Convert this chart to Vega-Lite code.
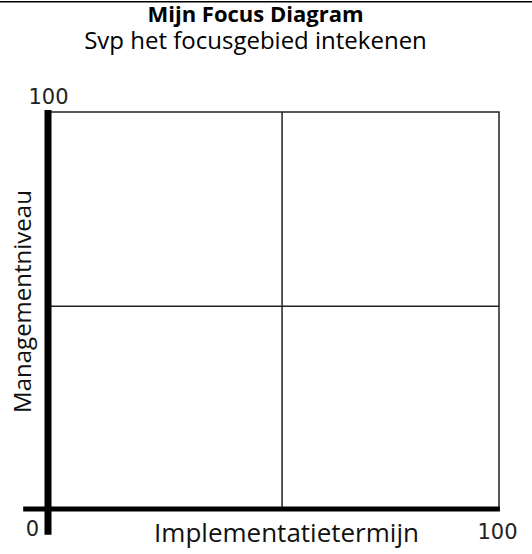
{
  "$schema": "https://vega.github.io/schema/vega-lite/v6.json",
  "autosize": "none",
  "width": 451,
  "height": 397,
  "padding": {"left": 48, "top": 112, "right": 33, "bottom": 45},
  "background": "white",
  "config": {"view": {"stroke": "#222222", "strokeWidth": 1.5}},
  "title": {
    "text": "Mijn Focus Diagram",
    "subtitle": "Svp het focusgebied intekenen",
    "anchor": "middle",
    "frame": "group",
    "dx": -18,
    "dy": 64,
    "offset": 10,
    "font": "Open Sans",
    "fontSize": 22,
    "fontWeight": "bold",
    "color": "#000000",
    "subtitleFont": "Open Sans",
    "subtitleFontSize": 24,
    "subtitleColor": "#000000",
    "subtitlePadding": 3
  },
  "data": {"values": [{"quadrant_x": 51.9, "quadrant_y": 51.1}]},
  "layer": [
    {
      "mark": {"type": "rule", "color": "#222222", "strokeWidth": 1.5},
      "encoding": {
        "x": {"field": "quadrant_x", "type": "quantitative", "scale": {"domain": [0, 100]},
          "axis": {
            "values": [0, 100], "domain": false, "ticks": false, "tickSize": 0, "grid": false,
            "labelFont": "DejaVu Sans", "labelFontSize": 21, "labelColor": "#222222",
            "labelBaseline": "alphabetic", "labelAlign": "center", "labelFlush": false,
            "labelOffset": {"condition": {"test": "datum.value == 0", "value": -16}, "value": -2},
            "labelPadding": {"condition": {"test": "datum.value == 0", "value": 26}, "value": 29},
            "title": "Implementatietermijn", "titleFont": "Open Sans", "titleFontSize": 26,
            "titleFontWeight": "normal", "titleColor": "#111111",
            "titleAlign": "center", "titleBaseline": "alphabetic", "titleX": 238, "titleY": 32
          }
        }
      }
    },
    {
      "mark": {"type": "rule", "color": "#222222", "strokeWidth": 1.5},
      "encoding": {
        "y": {"field": "quadrant_y", "type": "quantitative", "scale": {"domain": [0, 100]},
          "axis": {
            "values": [100], "domain": false, "ticks": false, "tickSize": 0, "grid": false,
            "labelFont": "DejaVu Sans", "labelFontSize": 21, "labelColor": "#222222",
            "labelAngle": 0, "labelAlign": "center", "labelBaseline": "alphabetic",
            "labelPadding": 0, "labelOffset": -9, "labelFlush": false,
            "title": "Managementniveau", "titleFont": "Open Sans", "titleFontSize": 24,
            "titleFontWeight": "normal", "titleColor": "#111111",
            "titleAngle": -90, "titleAlign": "center", "titleBaseline": "middle",
            "titleX": -25, "titleY": 189
          }
        }
      }
    },
    {
      "mark": {"type": "rule", "color": "#000000", "strokeWidth": 7},
      "encoding": {
        "x": {"datum": 0, "type": "quantitative"},
        "y": {"datum": -6.5, "type": "quantitative"},
        "y2": {"datum": 100.5}
      }
    },
    {
      "mark": {"type": "rule", "color": "#000000", "strokeWidth": 5},
      "encoding": {
        "y": {"datum": 0, "type": "quantitative"},
        "x": {"datum": -5.5, "type": "quantitative"},
        "x2": {"datum": 100.2}
      }
    },
    {
      "mark": {"type": "rule", "color": "#000000", "strokeWidth": 1.5},
      "encoding": {
        "y": {"datum": 127.8, "type": "quantitative"},
        "x": {"datum": -10.7, "type": "quantitative"},
        "x2": {"datum": 107.4}
      }
    }
  ]
}
